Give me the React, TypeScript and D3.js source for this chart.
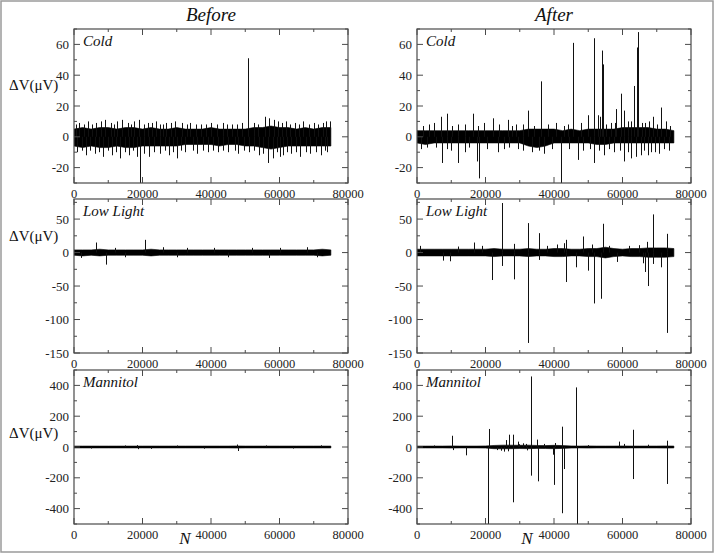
import * as d3 from 'd3';

// sample positions of the dense noise envelope (N)
const envN = [0, 2500, 5000, 7500, 10000, 12500, 15000, 17500, 20000, 22500, 25000, 27500, 30000, 32500, 35000,
  37500, 40000, 42500, 45000, 47500, 50000, 52500, 55000, 57500, 60000, 62500, 65000, 67500, 70000, 72500, 75000];

const xMajor = [0, 20000, 40000, 60000, 80000];
const xMinor = [10000, 30000, 50000, 70000];

const conditions = ['Cold', 'Low Light', 'Mannitol'];
const columnTitles = ['Before', 'After'];

const yDomains: [number, number][] = [[-30, 70], [-150, 80], [-500, 500]];
const yMajor = [[-20, 0, 20, 40, 60], [-150, -100, -50, 0, 50], [-400, -200, 0, 200, 400]];
const yMinor = [[-30, -10, 10, 30, 50, 70], [-125, -75, -25, 25, 75], [-500, -300, -100, 100, 300, 500]];

// ---- Cold, before
const coldBeforeHi = [5, 6, 5, 6, 6, 5, 6, 6, 5, 6, 5, 5, 6, 5, 5, 5, 6, 5, 5, 5, 5, 6, 6, 7, 6, 6, 5, 6, 5, 6, 6];
const coldBeforeLo = [-6, -7, -6, -7, -7, -6, -7, -7, -6, -6, -6, -6, -6, -5, -5, -5, -5, -6, -5, -5, -6, -6, -7, -8, -7, -6, -6, -6, -6, -6, -6];
const coldBeforeSpikes: [number, number][] = [
  [50700, 51], [19200, -32],
  [1500, 9], [4000, 10], [6500, 9], [9000, 11], [12500, 10], [14000, 11], [17500, 10], [19000, 11], [21500, 9],
  [24000, 10], [27000, 9], [29500, 10], [31500, 9], [34000, 9], [37000, 8], [40000, 9], [43500, 9], [46000, 8],
  [49000, 9], [52500, 9], [55700, 13], [57000, 12], [59500, 10], [62000, 10], [64500, 9], [67000, 10], [70000, 9],
  [73500, 10], [74800, 10], [2800, 8], [10800, 9], [15800, 9], [26000, 8], [38500, 8], [58300, 11], [65800, 8],
  [500, 8], [5200, 8], [7800, 10], [11600, 8], [16700, 8], [20300, 8], [22800, 9], [25200, 8], [28300, 9],
  [33000, 8], [35500, 8], [41800, 8], [44700, 8], [47600, 8], [53800, 8], [60800, 9], [63200, 8], [68600, 8],
  [71300, 8], [72600, 9],
  [1000, -10], [3500, -12], [6000, -11], [8500, -13], [11000, -12], [13500, -14], [16000, -12], [18500, -13],
  [22000, -13], [25000, -11], [30000, -14], [32500, -10], [36000, -11], [39000, -10], [42000, -10], [45000, -10],
  [48000, -11], [51000, -10], [54000, -12], [56500, -17], [58000, -14], [61000, -12], [63500, -11], [66000, -13],
  [69000, -11], [72000, -12], [74000, -10], [20500, -11], [27800, -12], [47000, -9], [60000, -13],
  [2200, -9], [4800, -9], [7200, -10], [9800, -9], [12300, -10], [14800, -10], [17200, -9], [23300, -10],
  [26500, -9], [29000, -10], [31300, -9], [34700, -9], [37800, -9], [40700, -9], [43600, -9], [49600, -9],
  [52700, -9], [55300, -11], [59200, -10], [62300, -10], [64800, -10], [67600, -10], [70600, -10], [73200, -9],
];

// ---- Cold, after
const coldAfterHi = [4, 4, 4, 4, 4, 4, 4, 4, 4, 4, 4, 4, 4, 5, 5, 5, 5, 4, 5, 4, 5, 5, 5, 5, 6, 6, 6, 6, 5, 5, 4];
const coldAfterLo = [-4, -5, -4, -4, -4, -4, -4, -4, -4, -4, -4, -4, -4, -6, -7, -6, -4, -4, -4, -4, -4, -5, -5, -4, -4, -4, -4, -4, -4, -4, -4];
const coldAfterSpikes: [number, number][] = [
  [36250, 36], [45500, 61], [51600, 64], [53900, 56], [54200, 47], [64400, 68], [64200, 58], [63300, 33],
  [59600, 28], [60300, 17], [58100, 18], [71200, 19], [32400, 17], [16300, 15], [8800, 15], [7100, 13],
  [49900, 14], [52800, 14], [53300, 13], [68800, 13], [72700, 10], [22200, 12], [26500, 11], [5000, 9],
  [12000, 8], [19500, 9], [29000, 8], [40500, 9], [44000, 8], [47800, 9], [56500, 9], [61500, 10], [66500, 9],
  [1800, 7], [3500, 8], [10200, 7], [14000, 8], [17800, 7], [24000, 8], [27800, 7], [31000, 8], [34200, 7],
  [38300, 8], [42800, 7], [55300, 8], [57700, 9], [62600, 10], [65700, 9], [67600, 10], [70000, 8], [74000, 7],
  [42100, -32], [18100, -27], [17600, -16], [7400, -17], [12100, -17], [51800, -17], [60500, -16], [62500, -14],
  [63900, -13], [65400, -12], [67300, -12], [70700, -11], [46900, -15], [37200, -11], [54500, -12], [23600, -10],
  [1300, -8], [13900, -10], [10000, -9], [30900, -9], [3000, -7], [25500, -8], [33500, -10], [35500, -9],
  [39500, -8], [48500, -9], [57500, -10], [69500, -10], [73500, -9],
  [5500, -7], [8800, -8], [15200, -7], [20500, -8], [27000, -7], [29600, -8], [44500, -8], [50500, -8],
  [53200, -9], [56000, -8], [59200, -9], [61700, -10], [66300, -9], [68400, -10], [72200, -8],
];

// ---- Low light, before
const lowBeforeHi = [4, 4, 4, 5, 4, 4, 4, 4, 4, 5, 4, 4, 4, 4, 4, 4, 4, 4, 4, 4, 4, 4, 4, 4, 4, 4, 4, 4, 4, 5, 4];
const lowBeforeLo = [-4, -5, -4, -5, -4, -4, -4, -4, -4, -5, -4, -4, -4, -4, -4, -4, -4, -4, -4, -4, -4, -4, -4, -4, -4, -4, -4, -4, -4, -5, -4];
const lowBeforeSpikes: [number, number][] = [
  [6300, 15], [20600, 19], [9400, -18], [2000, -8], [12000, 7], [26000, 8], [33000, 7], [41000, 7],
  [52000, 7], [60000, 7], [68000, 8], [15000, -7], [30000, -7], [45000, -7], [57000, -8], [71000, -7],
];

// ---- Low light, after
const lowAfterHi = [5, 5, 5, 5, 5, 5, 5, 5, 5, 6, 5, 5, 5, 6, 5, 5, 6, 6, 5, 5, 6, 6, 8, 6, 5, 6, 6, 7, 7, 7, 6];
const lowAfterLo = [-5, -5, -5, -5, -5, -5, -5, -5, -5, -6, -5, -5, -5, -6, -5, -5, -6, -6, -5, -5, -6, -6, -8, -6, -5, -6, -6, -7, -7, -7, -6];
const lowAfterSpikes: [number, number][] = [
  [24700, 74], [24800, -20], [21800, -41], [28400, -40], [28300, 13], [32400, 44], [32500, -135], [35700, 29],
  [35600, -11], [43500, -44], [43600, 19], [43000, 14], [46300, -22], [48400, 24], [50000, -27], [51600, -76],
  [53800, -69], [54300, 43], [58300, -14], [66000, -16], [66500, -29], [67300, -50], [67200, 16], [68800, 57],
  [68900, -17], [71200, -22], [72900, -120], [73000, 28], [16600, 15], [7600, -12], [9600, -13], [51100, 12],
  [40900, 12], [1000, 10], [12000, 9], [19000, 10], [38000, 10], [56000, 10], [62000, 10], [64800, 11],
];

// ---- Mannitol, before
const manBeforeHi = [6, 6, 6, 6, 6, 6, 6, 6, 6, 6, 6, 6, 6, 6, 6, 6, 6, 6, 6, 7, 6, 6, 6, 6, 6, 6, 6, 6, 6, 6, 6];
const manBeforeLo = [-6, -6, -6, -6, -6, -6, -6, -6, -6, -6, -6, -6, -6, -6, -6, -6, -6, -6, -6, -7, -6, -6, -6, -6, -6, -6, -6, -6, -6, -6, -6];
const manBeforeSpikes: [number, number][] = [
  [47700, 16], [47800, -26], [18500, 12], [18600, -14], [22500, -12], [15000, 10], [5000, -10], [30000, 10],
  [38000, -11], [56000, 10], [64000, -10], [72000, 11],
];

// ---- Mannitol, after
const manAfterHi = [6, 6, 6, 6, 7, 6, 6, 6, 7, 10, 12, 12, 11, 12, 10, 9, 11, 9, 7, 6, 7, 6, 6, 6, 7, 6, 6, 6, 6, 7, 6];
const manAfterLo = [-6, -6, -6, -6, -7, -6, -6, -6, -7, -11, -12, -11, -10, -11, -9, -10, -11, -9, -7, -6, -7, -6, -6, -6, -7, -6, -6, -6, -6, -7, -6];
const manAfterSpikes: [number, number][] = [
  [10300, 73], [10400, -20], [14200, -54], [20900, 117], [20800, -520], [26000, 45], [27000, 80], [28000, 80],
  [28100, -359], [24600, -24], [29400, 35], [33300, 458], [33400, -186], [35100, 48], [35200, -223], [39800, -50],
  [40100, -246], [40400, 26], [42300, 132], [42200, -430], [43000, -143], [46500, 387], [46600, -520], [59100, 35],
  [60500, 20], [63000, 112], [63100, -208], [67400, 15], [72900, 41], [73000, -240], [30900, 24], [31900, 20],
  [25300, -30], [37000, 20], [50000, 12], [5000, 10], [23500, -20], [26600, -28], [29900, 18], [32200, -22],
];

const his = [[coldBeforeHi, coldAfterHi], [lowBeforeHi, lowAfterHi], [manBeforeHi, manAfterHi]];
const los = [[coldBeforeLo, coldAfterLo], [lowBeforeLo, lowAfterLo], [manBeforeLo, manAfterLo]];
const spikes = [[coldBeforeSpikes, coldAfterSpikes], [lowBeforeSpikes, lowAfterSpikes], [manBeforeSpikes, manAfterSpikes]];

const W = 715;
const H = 557;
const colX = [74, 417];
const rowY = [29, 199, 370];
const pw = 274;
const ph = 154;
const serif = '"Liberation Serif", "DejaVu Serif", serif';
const frameColor = '#4a4a4a';

function Panel({ row, col }: { row: number; col: number }) {
  const x0 = colX[col];
  const y0 = rowY[row];
  const x = d3.scaleLinear().domain([0, 80000]).range([x0, x0 + pw]);
  const y = d3.scaleLinear().domain(yDomains[row]).range([y0 + ph, y0]);
  const hi = his[row][col];
  const lo = los[row][col];
  const area = d3.area<number>()
    .x((_, i) => x(envN[i]))
    .y0((_, i) => y(lo[i]))
    .y1(d => y(d));
  const clipId = `clip-${row}-${col}`;
  const major = 6;
  const minor = 3;

  return (
    <g>
      <defs>
        <clipPath id={clipId}>
          <rect x={x0} y={y0} width={pw} height={ph} />
        </clipPath>
      </defs>
      <g clipPath={`url(#${clipId})`}>
        <path d={area(hi) ?? ''} fill="#000" stroke="#000" strokeWidth={0.6} />
        {spikes[row][col].map(([n, v], i) => (
          <line key={i} x1={Math.round(x(n)) + 0.5} x2={Math.round(x(n)) + 0.5} y1={y(0)} y2={y(v)}
            stroke="#111" strokeWidth={1} />
        ))}
      </g>
      {/* frame */}
      <rect x={x0} y={y0} width={pw} height={ph} fill="none" stroke={frameColor} strokeWidth={1.2} />
      {/* x ticks, inward on top and bottom */}
      {xMajor.map(t => (
        <g key={`xm${t}`} stroke={frameColor} strokeWidth={1}>
          <line x1={x(t)} x2={x(t)} y1={y0 + ph} y2={y0 + ph - major} />
          <line x1={x(t)} x2={x(t)} y1={y0} y2={y0 + major} />
        </g>
      ))}
      {xMinor.map(t => (
        <g key={`xn${t}`} stroke={frameColor} strokeWidth={1}>
          <line x1={x(t)} x2={x(t)} y1={y0 + ph} y2={y0 + ph - minor} />
          <line x1={x(t)} x2={x(t)} y1={y0} y2={y0 + minor} />
        </g>
      ))}
      {yMajor[row].map(t => (
        <g key={`ym${t}`} stroke={frameColor} strokeWidth={1}>
          <line x1={x0} x2={x0 + major} y1={y(t)} y2={y(t)} />
          <line x1={x0 + pw} x2={x0 + pw - major} y1={y(t)} y2={y(t)} />
        </g>
      ))}
      {yMinor[row].map(t => (
        <g key={`yn${t}`} stroke={frameColor} strokeWidth={1}>
          <line x1={x0} x2={x0 + minor} y1={y(t)} y2={y(t)} />
          <line x1={x0 + pw} x2={x0 + pw - minor} y1={y(t)} y2={y(t)} />
        </g>
      ))}
      {/* tick labels */}
      {xMajor.map(t => (
        <text key={`xl${t}`} x={x(t)} y={y0 + ph + 15} textAnchor="middle" fontSize={12.5} fontFamily={serif}
          fill="#222">{t}</text>
      ))}
      {yMajor[row].map(t => (
        <text key={`yl${t}`} x={x0 - 5} y={y(t) + 4.5} textAnchor="end" fontSize={13} fontFamily={serif}
          fill="#222">{t}</text>
      ))}
      <text x={x0 + 9} y={y0 + 16.5} fontSize={15} fontStyle="italic" fontFamily={serif} fill="#111">
        {conditions[row]}
      </text>
    </g>
  );
}

export default function App() {
  const ylabelY = [90, 241, 438];
  return (
    <svg width={W} height={H} style={{ position: 'absolute', left: 0, top: 0, background: '#fff' }}>
      <rect x={1} y={1} width={712} height={551} fill="#fff" stroke="#9a9a9a" strokeWidth={1.5} />
      {columnTitles.map((t, c) => (
        <text key={t} x={colX[c] + pw / 2} y={21} textAnchor="middle" fontSize={19} fontStyle="italic"
          fontFamily={serif} fill="#111">{t}</text>
      ))}
      {conditions.map((_, r) => (
        <g key={r}>
          <Panel row={r} col={0} />
          <Panel row={r} col={1} />
          <text x={9} y={ylabelY[r]} fontSize={15} fontFamily={serif} fill="#111">ΔV(μV)</text>
        </g>
      ))}
      {colX.map((cx, c) => (
        <text key={c} x={cx + (c === 0 ? 111 : 110)} y={544} textAnchor="middle" fontSize={17} fontStyle="italic"
          fontFamily={serif} fill="#111">N</text>
      ))}
    </svg>
  );
}
